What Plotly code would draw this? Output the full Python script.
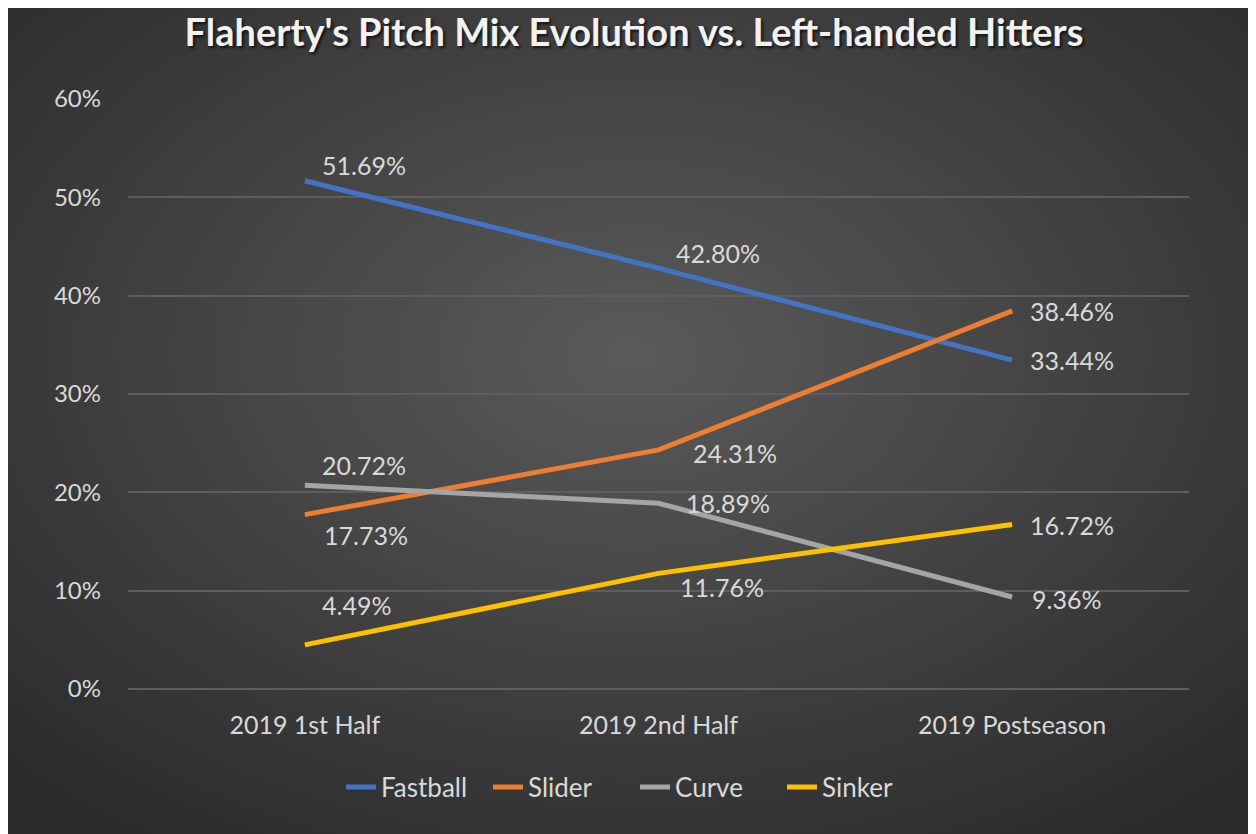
import base64
import plotly.graph_objects as go

# data
periods = ["2019 1st Half", "2019 2nd Half", "2019 Postseason"]
fastball = [51.69, 42.80, 33.44]
slider = [17.73, 24.31, 38.46]
curve = [20.72, 18.89, 9.36]
sinker = [4.49, 11.76, 16.72]

series = [
    ("Fastball", fastball, "#4472C4"),
    ("Slider", slider, "#ED7D31"),
    ("Curve", curve, "#A5A5A5"),
    ("Sinker", sinker, "#FFC000"),
]

# label nudges (px) - labels were dragged around by hand in the original
label_shift = {
    "Fastball": [(15, 16), (15, 15), (16, 0)],
    "Slider": [(17, -20), (32, -3), (16, 0)],
    "Curve": [(15, 20), (25, 0), (18, -2)],
    "Sinker": [(15, 40), (19, -14), (16, 0)],
}

# page body has an 8px margin, so the figure is a bit smaller than the window
W, H = 1248, 826
ml, mr, mt, mb = 120, 67, 91, 145
FONT = "Lato"

fig = go.Figure()
for name, vals, col in series:
    fig.add_trace(go.Scatter(
        x=periods, y=[v / 100 for v in vals], name=name, mode="lines",
        line=dict(color=col, width=5),
    ))
    for i, v in enumerate(vals):
        dx, dy = label_shift[name][i]
        fig.add_annotation(
            x=periods[i], y=v / 100, text="%.2f%%" % v, showarrow=False,
            xanchor="left", yanchor="middle", xshift=dx, yshift=dy,
            font=dict(family=FONT, size=25, color="#d9d9d9"),
        )

# radial grey gradient like the excel chart style
svg = ('<svg xmlns="http://www.w3.org/2000/svg" width="%d" height="%d" preserveAspectRatio="none">'
       '<defs><radialGradient id="g" cx="50%%" cy="42%%" r="72%%">'
       '<stop offset="0" stop-color="#5a5a5a"/><stop offset="1" stop-color="#2a2a2a"/>'
       '</radialGradient></defs><rect width="100%%" height="100%%" fill="url(#g)"/></svg>') % (W, H)
src = "data:image/svg+xml;base64," + base64.b64encode(svg.encode()).decode()
pw, ph = W - ml - mr, H - mt - mb
fig.add_layout_image(
    source=src, xref="paper", yref="paper", x=-ml / pw, y=1 + mt / ph,
    sizex=W / pw, sizey=H / ph, sizing="stretch", layer="below",
    xanchor="left", yanchor="top",
)

fig.update_layout(
    width=W, height=H,
    margin=dict(l=ml, r=mr, t=mt, b=mb),
    paper_bgcolor="#404040", plot_bgcolor="rgba(0,0,0,0)",
    title=dict(
        text="Flaherty's Pitch Mix Evolution vs. Left-handed Hitters",
        x=(634 - 8) / W, xref="container", xanchor="center", y=1 - 25 / H, yanchor="middle",
        font=dict(family=FONT, size=38, color="#f2f2f2", weight="bold",
                  shadow="2px 2px 3px rgba(0,0,0,0.7)"),
    ),
    xaxis=dict(
        range=[-0.5, 2.5],
        showgrid=False, showline=False, zeroline=False, ticks="",
        tickfont=dict(family=FONT, size=25, color="#d9d9d9"),
        ticklabelstandoff=19,
    ),
    yaxis=dict(
        range=[0, 0.6], dtick=0.1, tickformat=".0%",
        showgrid=True, gridcolor="#5e5e5e", gridwidth=1.5,
        zeroline=True, zerolinecolor="#5e5e5e", zerolinewidth=1.5,
        showline=False, ticks="",
        tickfont=dict(family=FONT, size=24, color="#d9d9d9"),
        ticklabelstandoff=26,
    ),
    legend=dict(
        orientation="h", x=(635 - 8) / W, xanchor="center", xref="container",
        y=1 - 779 / H, yref="container", yanchor="middle",
        font=dict(family=FONT, size=26, color="#d9d9d9"),
        bgcolor="rgba(0,0,0,0)", entrywidth=102, entrywidthmode="pixels",
    ),
    showlegend=True,
)

fig.write_html("out.html")
